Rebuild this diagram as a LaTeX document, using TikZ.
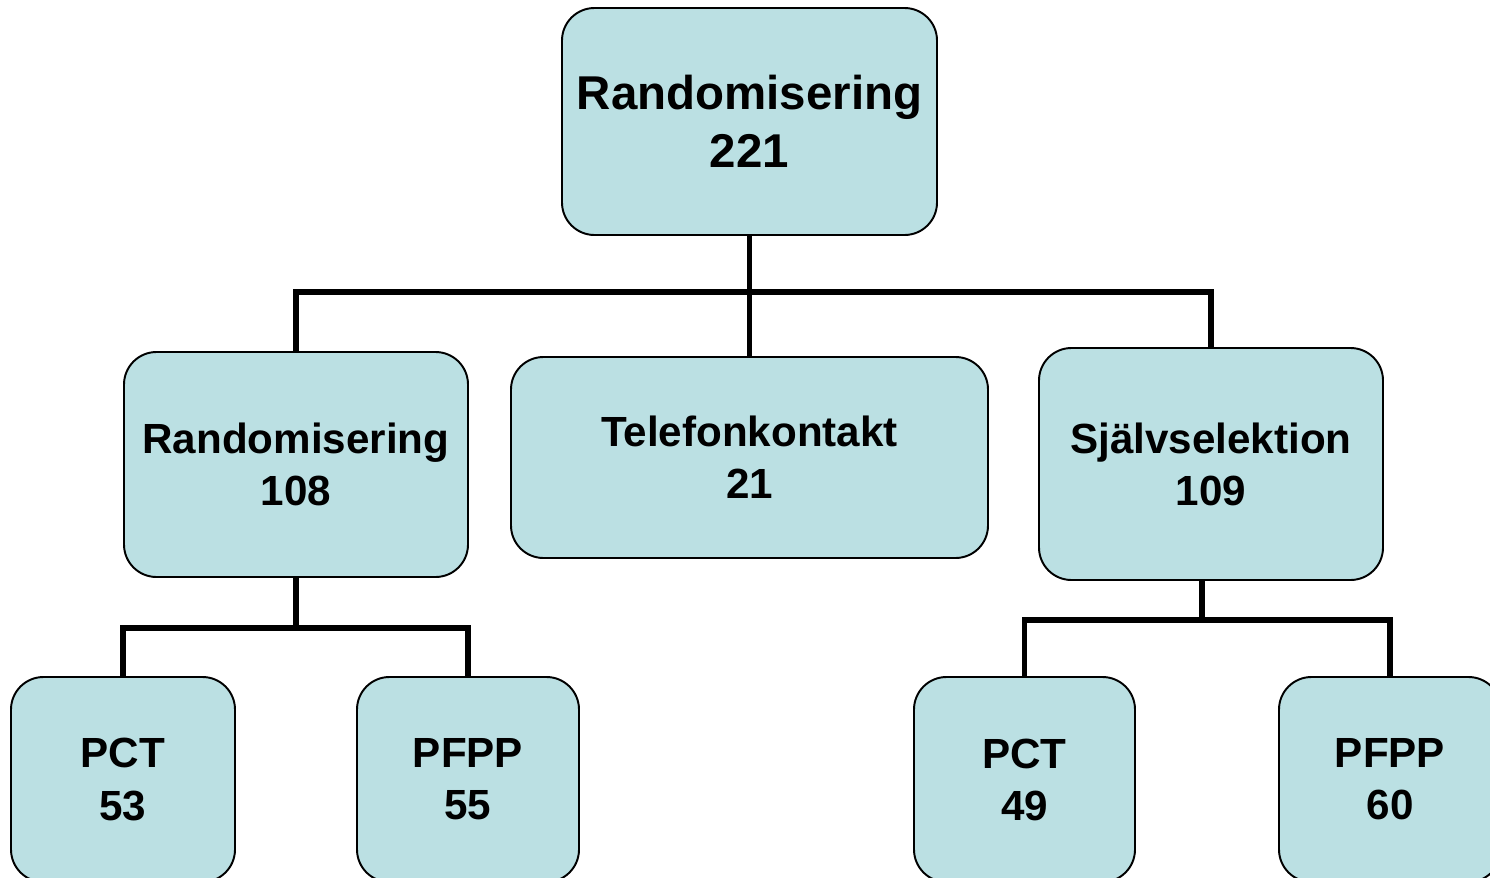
\documentclass[tikz,border=0pt]{standalone}
\usepackage{fontspec}
\setmainfont{Liberation Sans}
\definecolor{boxfill}{RGB}{187,224,227}

\begin{document}
\begin{tikzpicture}[scale=0.2]
              \tikzstyle{every node}+=[inner sep=0pt]
              \tikzstyle{box}=[draw=black, line width=1.1pt, fill=boxfill, rounded corners=0.65cm, align=center, font=\bfseries\fontsize{24}{29.6}\selectfont]
              \tikzstyle{link}=[black, line width=3.4pt]
              \clip (0,0) rectangle (149,-87.7);
              \node [box, minimum width=7.5cm, minimum height=4.54cm, font=\bfseries\fontsize{27}{33}\selectfont] (rnd) at (74.95,-12.15) {Randomisering\\221};
              \node [box, minimum width=6.88cm, minimum height=4.5cm] (rnd1) at (29.6,-46.45) {Randomisering\\108};
              \node [box, minimum width=9.54cm, minimum height=4.02cm] (tel) at (74.95,-45.75) {Telefonkontakt\\21};
              \node [box, minimum width=6.88cm, minimum height=4.64cm] (self) at (121.1,-46.4) {Självselektion\\109};
              \node [box, minimum width=4.48cm, minimum height=4.1cm] (pct1) at (12.3,-77.95) {PCT\\53};
              \node [box, minimum width=4.44cm, minimum height=4.1cm] (pfpp1) at (46.8,-77.95) {PFPP\\55};
              \node [box, minimum width=4.42cm, minimum height=4.1cm] (pct2) at (102.45,-77.95) {PCT\\49};
              \node [box, minimum width=4.44cm, minimum height=4.1cm] (pfpp2) at (139,-77.95) {PFPP\\60};
              \coordinate (split) at (74.95,-29.2);
              \coordinate (lsplit) at (29.6,-62.8);
              \coordinate (rsplit) at (120.2,-62);
              \draw [link] (rnd.south) -- (split);
              \draw [link] (rnd1.north) |- (split) -| (self.north);
              \draw [link] (split) -- (tel.north);
              \draw [link] (rnd1.south) -- (lsplit);
              \draw [link] (pct1.north) |- (lsplit) -| (pfpp1.north);
              \draw [link] (rsplit |- self.south) -- (rsplit);
              \draw [link] (pct2.north) |- (rsplit) -| (pfpp2.north);
            \end{tikzpicture}
\end{document}
